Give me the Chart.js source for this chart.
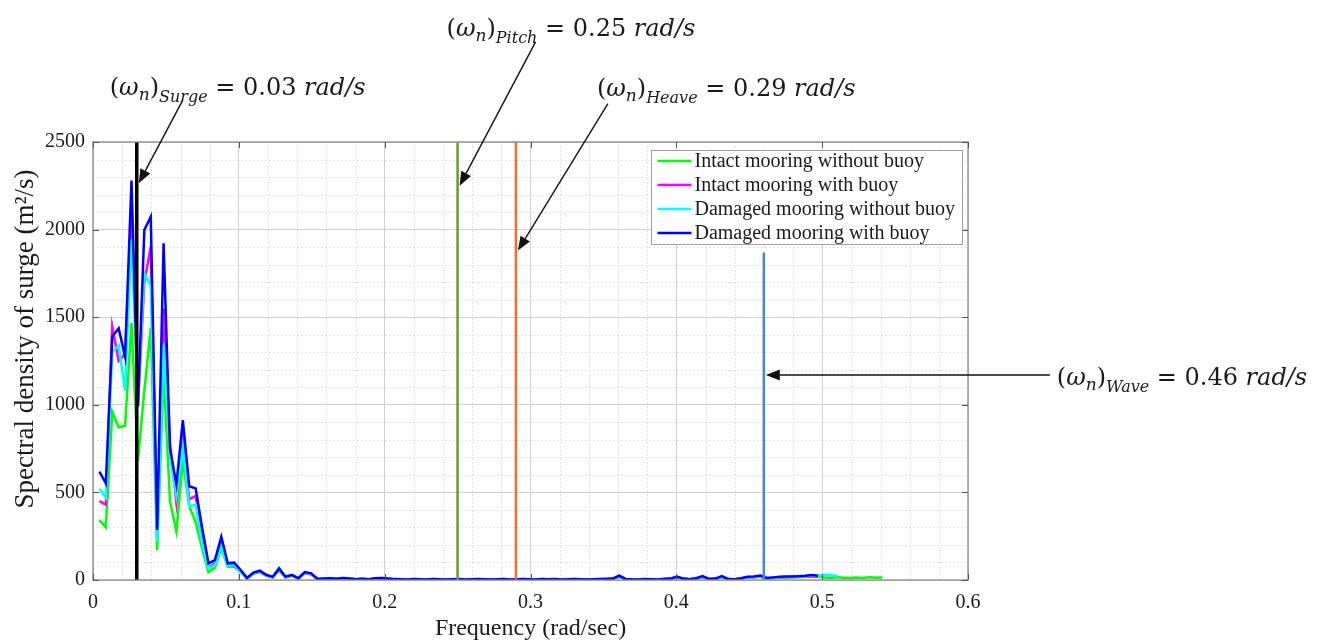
<!DOCTYPE html>
<html>
<head>
<meta charset="utf-8">
<script src="https://cdn.jsdelivr.net/npm/chart.js@4.4.1/dist/chart.umd.min.js"></script>
<style>
  html, body { margin: 0; padding: 0; background: #ffffff; }
  canvas { display: block; background: #ffffff; }
</style>
</head>
<body>
<canvas id="surge" width="1320" height="641"></canvas>
<script>
// Frequency grid of the surge spectra (rad/s)
const freq = [
  0.0044, 0.0088, 0.0132, 0.0176, 0.0220, 0.0264, 0.0308, 0.0352, 0.0396, 0.0440,
  0.0484, 0.0528, 0.0572, 0.0616, 0.0660, 0.0704, 0.0748, 0.0792, 0.0836, 0.0880,
  0.0924, 0.0968, 0.1012, 0.1056, 0.1100, 0.1144, 0.1188, 0.1232, 0.1276, 0.1320,
  0.1364, 0.1408, 0.1452, 0.1496, 0.1540, 0.1584, 0.1628, 0.1672, 0.1716, 0.1760,
  0.1804, 0.1848, 0.1892, 0.1936, 0.1980, 0.2024, 0.2068, 0.2112, 0.2156, 0.2200,
  0.2244, 0.2288, 0.2332, 0.2376, 0.2420, 0.2464, 0.2508, 0.2552, 0.2596, 0.2640,
  0.2684, 0.2728, 0.2772, 0.2816, 0.2860, 0.2904, 0.2948, 0.2992, 0.3036, 0.3080,
  0.3124, 0.3168, 0.3212, 0.3256, 0.3300, 0.3344, 0.3388, 0.3432, 0.3476, 0.3520,
  0.3564, 0.3608, 0.3652, 0.3696, 0.3740, 0.3784, 0.3828, 0.3872, 0.3916, 0.3960,
  0.4004, 0.4048, 0.4092, 0.4136, 0.4180, 0.4224, 0.4268, 0.4312, 0.4356, 0.4400,
  0.4444, 0.4488, 0.4532, 0.4576, 0.4620, 0.4664, 0.4708, 0.4752, 0.4796, 0.4840,
  0.4884, 0.4928, 0.4972, 0.5016, 0.5060, 0.5104, 0.5148, 0.5192, 0.5236, 0.5280,
  0.5324, 0.5368, 0.5412
];

// Spectral density of surge (m^2/s) for each mooring case
const intactNoBuoy = [
  342, 300, 960, 870, 880, 1467, 680, 1080, 1440, 170,
  1180, 450, 276, 680, 420, 330, 180, 45, 70, 180,
  75, 75, 45, 10, 35, 45, 25, 15, 70, 15,
  25, 8, 40, 32, 5, 6, 9, 6, 10, 7,
  4, 6, 3, 8, 9, 6, 4, 3, 3, 4,
  3, 3, 4, 3, 2, 3, 4, 3, 3, 4,
  3, 3, 3, 4, 3, 3, 4, 3, 3, 4,
  3, 4, 3, 3, 4, 3, 3, 3, 4, 5,
  6, 18, 5, 3, 3, 4, 3, 3, 5, 6,
  15, 6, 4, 8, 16, 5, 6, 16, 4, 3,
  8, 14, 15, 18, 10, 11, 13, 14, 15, 16,
  18, 20, 18, 14, 12, 15, 13, 12, 14, 12,
  15, 13, 14
];
const intactBuoy = [
  450, 430, 1446, 1250, 1290, 2100, 1000, 1700, 1900, 250,
  1550, 780, 440, 800, 460, 480, 260, 70, 95, 215,
  85, 80, 50, 8, 38, 48, 25, 15, 55, 15,
  25, 8, 40, 33, 5, 6, 9, 6, 10, 7,
  4, 6, 3, 8, 10, 7, 4, 3, 3, 4,
  3, 3, 4, 3, 2, 3, 4, 3, 3, 4,
  3, 3, 3, 4, 3, 3, 4, 3, 3, 4,
  3, 4, 3, 3, 4, 3, 3, 3, 4, 5,
  6, 20, 5, 3, 3, 4, 3, 3, 5, 6,
  16, 7, 4, 8, 18, 5, 6, 18, 4, 3,
  8, 15, 16, 20, 10, 12, 15, 16, 17, 18,
  20, 22, 20
];
const damagedNoBuoy = [
  520, 470, 1300, 1340, 1080, 1950, 1030, 1750, 1680, 220,
  1350, 700, 480, 760, 420, 430, 210, 65, 85, 190,
  80, 85, 48, 10, 40, 50, 28, 16, 60, 18,
  27, 9, 42, 35, 6, 7, 10, 7, 11, 8,
  5, 7, 4, 9, 11, 8, 5, 4, 3, 5,
  4, 3, 5, 4, 3, 4, 5, 3, 4, 5,
  4, 3, 4, 5, 3, 4, 5, 4, 3, 5,
  4, 5, 3, 4, 5, 4, 3, 4, 5, 6,
  7, 22, 6, 4, 3, 5, 4, 3, 6, 7,
  18, 8, 5, 9, 20, 6, 7, 20, 5, 4,
  9, 16, 18, 22, 12, 14, 16, 18, 19, 20,
  22, 25, 24, 30, 28, 20
];
const damagedBuoy = [
  618, 552, 1390, 1436, 1275, 2280, 990, 1998, 2074, 285,
  1922, 750, 545, 913, 535, 523, 300, 95, 114, 247,
  95, 99, 57, 12, 42, 53, 30, 18, 65, 19,
  29, 10, 45, 38, 6, 8, 10, 7, 12, 8,
  5, 7, 4, 10, 12, 8, 5, 4, 3, 5,
  4, 3, 5, 4, 3, 4, 5, 3, 4, 5,
  4, 3, 4, 5, 3, 4, 5, 4, 3, 5,
  4, 5, 3, 4, 5, 4, 3, 4, 5, 6,
  8, 25, 6, 4, 3, 5, 4, 3, 6, 8,
  20, 8, 5, 10, 22, 6, 8, 22, 5, 4,
  10, 18, 20, 25, 12, 15, 18, 20, 20, 22,
  24, 28, 24
];

const seriesNames = [
  'Intact mooring without buoy',
  'Intact mooring with buoy',
  'Damaged mooring without buoy',
  'Damaged mooring with buoy'
];

// Natural frequencies (rad/s) marked with vertical lines
const naturalNames = ['Surge', 'Pitch', 'Heave', 'Wave'];
const naturalFreqs = [0.03, 0.25, 0.29, 0.46];
const naturalLineTops = [2500, 2500, 2500, 1870];

// Axis ticks and titles
const xTickValues = [0, 0.1, 0.2, 0.3, 0.4, 0.5, 0.6];
const yTickValues = [0, 500, 1000, 1500, 2000, 2500];
const xTitle = 'Frequency (rad/sec)';
const yTitle = 'Spectral density of surge (m²/s)';

// ---- styling ----
const serif = '"Liberation Serif", "Times New Roman", serif';
const mathFont = '"DejaVu Serif", serif';
const seriesColors = ['#00ff00', '#ff00ff', '#00ffff', '#0000ff'];
const markerColors = ['#000000', '#5c9f2f', '#f0702a', '#3b8bd0'];
const markerWidths = [3.5, 2.5, 2.5, 2.5];

// Callout arrows: tip sits next to the vertical line, tail/text offsets in px
const callouts = [
  { tipY: 2265, tail: [44, -83],  text: [-73, -5] },
  { tipY: 2250, tail: [76, -144], text: [-89, -6] },
  { tipY: 1880, tail: [90, -147], text: [-11, -8] },
  { tipY: 1170, tail: [284, 0],   text: [7, 10] }
];

const toPoints = (vals) => vals.map((v, i) => ({ x: freq[i], y: v }));
const seriesValues = [intactNoBuoy, intactBuoy, damagedNoBuoy, damagedBuoy];

const datasets = seriesValues.map((vals, k) => ({
  label: seriesNames[k],
  data: toPoints(vals),
  borderColor: seriesColors[k],
  backgroundColor: seriesColors[k],
  borderWidth: 2.5,
  pointRadius: 0,
  tension: 0,
  order: 10 - k
}));
naturalFreqs.forEach((f, k) => {
  datasets.push({
    label: naturalNames[k],
    data: [{ x: f, y: 0 }, { x: f, y: naturalLineTops[k] }],
    borderColor: markerColors[k],
    borderWidth: markerWidths[k],
    pointRadius: 0,
    order: 1
  });
});

function drawArrow(ctx, x0, y0, x1, y1) {
  const ang = Math.atan2(y1 - y0, x1 - x0);
  const len = 14, half = 5.5;
  const bx = x1 - len * Math.cos(ang), by = y1 - len * Math.sin(ang);
  ctx.beginPath();
  ctx.moveTo(x0, y0);
  ctx.lineTo(bx, by);
  ctx.lineWidth = 1.4;
  ctx.strokeStyle = '#111';
  ctx.stroke();
  ctx.beginPath();
  ctx.moveTo(x1, y1);
  ctx.lineTo(bx + half * Math.sin(ang), by - half * Math.cos(ang));
  ctx.lineTo(bx - half * Math.sin(ang), by + half * Math.cos(ang));
  ctx.closePath();
  ctx.fillStyle = '#111';
  ctx.fill();
}

function drawMathLabel(ctx, x, y, name, value) {
  const pieces = [
    { t: '(', f: `24px ${mathFont}`, dy: 0 },
    { t: 'ω', f: `italic 24px ${mathFont}`, dy: 0 },
    { t: 'n', f: `italic 17px ${mathFont}`, dy: 5 },
    { t: ')', f: `24px ${mathFont}`, dy: 0 },
    { t: name, f: `italic 16px ${mathFont}`, dy: 7 },
    { t: ' = ' + value.toFixed(2) + ' ', f: `24px ${mathFont}`, dy: 0 },
    { t: 'rad/s', f: `italic 24px ${mathFont}`, dy: 0 }
  ];
  ctx.fillStyle = '#1a1a1a';
  ctx.textBaseline = 'alphabetic';
  ctx.textAlign = 'left';
  let cx = x;
  for (const p of pieces) {
    ctx.font = p.f;
    ctx.fillText(p.t, cx, y + p.dy);
    cx += ctx.measureText(p.t).width;
  }
}

const decor = {
  id: 'decor',
  beforeDatasetsDraw(chart) {
    // dotted minor grid
    const { ctx, chartArea: a, scales: { x, y } } = chart;
    ctx.save();
    ctx.strokeStyle = '#d9d9d9';
    ctx.lineWidth = 1;
    ctx.setLineDash([1.5, 2.5]);
    for (let k = 1; k < 30; k++) {
      if (k % 5 === 0) continue;
      const px = Math.round(x.getPixelForValue(k * 0.02)) + 0.5;
      ctx.beginPath(); ctx.moveTo(px, a.top); ctx.lineTo(px, a.bottom); ctx.stroke();
    }
    for (let k = 1; k < 25; k++) {
      if (k % 5 === 0) continue;
      const py = Math.round(y.getPixelForValue(k * 100)) + 0.5;
      ctx.beginPath(); ctx.moveTo(a.left, py); ctx.lineTo(a.right, py); ctx.stroke();
    }
    ctx.restore();
  },
  afterDatasetsDraw(chart) {
    // axes box with inward ticks
    const { ctx, chartArea: a, scales: { x, y } } = chart;
    ctx.save();
    ctx.strokeStyle = '#8a8a8a';
    ctx.lineWidth = 1.3;
    ctx.strokeRect(a.left, a.top, a.right - a.left, a.bottom - a.top);
    ctx.strokeStyle = '#555';
    ctx.lineWidth = 1;
    for (const v of xTickValues) {
      const px = Math.round(x.getPixelForValue(v)) + 0.5;
      ctx.beginPath();
      ctx.moveTo(px, a.bottom); ctx.lineTo(px, a.bottom - 6);
      ctx.moveTo(px, a.top); ctx.lineTo(px, a.top + 6);
      ctx.stroke();
    }
    for (const v of yTickValues) {
      const py = Math.round(y.getPixelForValue(v)) + 0.5;
      ctx.beginPath();
      ctx.moveTo(a.left, py); ctx.lineTo(a.left + 6, py);
      ctx.moveTo(a.right, py); ctx.lineTo(a.right - 6, py);
      ctx.stroke();
    }
    ctx.restore();
  },
  afterDraw(chart) {
    const { ctx, chartArea: a, scales: { x, y } } = chart;
    ctx.save();
    // y-axis title, rotated, a little above the axis middle
    ctx.save();
    ctx.translate(26, (a.top + a.bottom) / 2 - 22);
    ctx.rotate(-Math.PI / 2);
    ctx.font = `27px ${serif}`;
    ctx.fillStyle = '#1a1a1a';
    ctx.textAlign = 'center';
    ctx.textBaseline = 'middle';
    ctx.fillText(yTitle, 0, 0);
    ctx.restore();
    // legend
    ctx.font = `20px ${serif}`;
    const tw = Math.max(...seriesNames.map(n => ctx.measureText(n).width));
    const w = 6 + 34 + 4 + tw + 6;
    const right = a.right - 6, top = a.top + 8, left = right - w;
    const rowH = 24, h = rowH * seriesNames.length - 2;
    ctx.fillStyle = '#ffffff';
    ctx.fillRect(left, top, w, h);
    ctx.strokeStyle = '#a0a0a0';
    ctx.lineWidth = 1;
    ctx.strokeRect(Math.round(left) + 0.5, top + 0.5, Math.round(w), h);
    seriesNames.forEach((n, k) => {
      const cy = top + 11 + k * rowH;
      ctx.beginPath();
      ctx.moveTo(left + 6, cy); ctx.lineTo(left + 40, cy);
      ctx.strokeStyle = seriesColors[k];
      ctx.lineWidth = 2.5;
      ctx.stroke();
      ctx.fillStyle = '#1a1a1a';
      ctx.textBaseline = 'middle';
      ctx.textAlign = 'left';
      ctx.font = `20px ${serif}`;
      ctx.fillText(n, left + 43, cy + 1);
    });
    // natural-frequency callouts
    naturalFreqs.forEach((f, k) => {
      const c = callouts[k];
      const tipX = x.getPixelForValue(f) + 2;
      const tipY = y.getPixelForValue(c.tipY);
      const tx = tipX + c.tail[0], ty = tipY + c.tail[1];
      drawArrow(ctx, tx, ty, tipX, tipY);
      drawMathLabel(ctx, tx + c.text[0], ty + c.text[1], naturalNames[k], f);
    });
    ctx.restore();
  }
};

new Chart(document.getElementById('surge'), {
  type: 'line',
  data: { datasets },
  options: {
    responsive: false,
    animation: false,
    devicePixelRatio: 1,
    layout: { padding: { left: 4, top: 142, right: 352, bottom: 0 } },
    plugins: { legend: { display: false }, tooltip: { enabled: false } },
    scales: {
      x: {
        type: 'linear',
        min: 0, max: 0.6,
        afterBuildTicks: s => { s.ticks = xTickValues.map(v => ({ value: v })); },
        afterFit: s => { s.height = 61; },
        grid: { color: '#d0d0d0', lineWidth: 1, drawTicks: false },
        border: { display: false },
        ticks: {
          padding: 11, color: '#1a1a1a', maxRotation: 0, autoSkip: false,
          font: { family: serif, size: 20 },
          callback: v => String(Number(v.toFixed(2)))
        },
        title: {
          display: true, text: xTitle, color: '#1a1a1a',
          font: { family: serif, size: 24, lineHeight: 1 },
          padding: { top: 0, bottom: 0 }
        }
      },
      y: {
        type: 'linear',
        min: 0, max: 2500,
        afterBuildTicks: s => { s.ticks = yTickValues.map(v => ({ value: v })); },
        afterFit: s => { s.width = 89; },
        grid: { color: '#d0d0d0', lineWidth: 1, drawTicks: false },
        border: { display: false },
        ticks: {
          padding: 8, color: '#1a1a1a',
          font: { family: serif, size: 20 },
          callback: v => String(v)
        },
        title: { display: false }
      }
    }
  },
  plugins: [decor]
});
</script>
</body>
</html>
